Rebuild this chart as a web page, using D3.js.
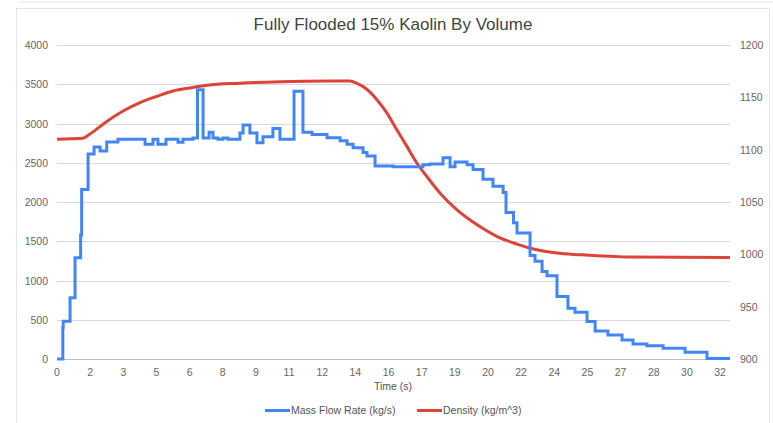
<!DOCTYPE html>
<html><head><meta charset="utf-8">
<script src="https://cdn.jsdelivr.net/npm/d3@7"></script>
<style>html,body{margin:0;padding:0;background:#fff;}svg{display:block;font-family:Arial,"Liberation Sans",sans-serif;}</style>
</head><body>
<svg id="c" width="773" height="423"></svg>
<script>
const title = "Fully Flooded 15% Kaolin By Volume";
const xTickLabels = ["0","2","3","5","6","8","9","11","12","14","16","17","19","20","22","24","25","27","28","30","32"];
const xTickStep = 1.6;
const leftTicks = [0,500,1000,1500,2000,2500,3000,3500,4000];
const rightTicks = [900,950,1000,1050,1100,1150,1200];
// Mass flow rate (step series): time (s), value (kg/s)
const flowTime = [0,0.28,0.30,0.63,0.87,1.14,1.19,1.50,1.79,2.08,2.40,2.94,4.25,4.63,4.87,5.26,5.84,6.08,6.56,6.78,7.05,7.34,7.53,7.77,8.01,8.25,8.83,8.98,9.31,9.65,9.94,10.42,10.76,11.44,11.87,12.31,13.03,13.66,14.00,14.29,14.77,14.96,15.35,16.22,17.66,18.00,18.63,18.97,19.21,19.79,20.08,20.56,21.04,21.53,21.67,22.03,22.20,22.83,23.07,23.41,23.65,24.13,24.66,25.00,25.58,25.97,26.59,27.27,27.80,28.47,29.25,30.31,31.37,32.48];
const flowValue = [0,400,480,780,1290,1580,2160,2610,2700,2650,2765,2800,2735,2800,2735,2800,2760,2800,2815,3430,2815,2890,2815,2800,2815,2800,2880,2980,2880,2755,2830,2935,2800,3410,2890,2860,2820,2780,2735,2690,2630,2585,2460,2450,2475,2485,2565,2450,2510,2475,2415,2290,2200,2120,1865,1735,1605,1320,1245,1115,1060,795,648,597,477,358,307,243,192,170,137,86,5,5];
// Density (smooth series): time (s), value (kg/m^3)
const densTime = [0,1.25,1.59,2.40,3.19,4.01,4.83,5.60,6.42,7.24,8.83,10.76,13.18,14.14,14.46,14.95,15.43,15.91,16.39,16.88,17.36,17.84,18.48,19.29,20.26,21.22,22.19,23.15,24.12,25.24,27.65,32.48];
const densValue = [1110,1111,1115,1127,1137,1145,1151,1156,1159,1161.5,1163.5,1165,1165.7,1165.5,1163.5,1157.7,1148,1135.4,1119.4,1103.4,1087.5,1074.6,1058.7,1042.7,1028.4,1017.2,1009.8,1004.4,1001.2,999.6,997.4,997];
const seriesNames = ["Mass Flow Rate (kg/s)","Density (kg/m^3)"];
const colors = ["#4285f4","#db4437"];

const svg = d3.select("#c");
const mLeft = 57, mRight = 730, mTop = 45, mBottom = 359;
const x = d3.scaleLinear().domain([0, 32.48]).range([mLeft, mRight]);
const yL = d3.scaleLinear().domain([0, 4000]).range([mBottom, mTop]);
const yR = d3.scaleLinear().domain([900, 1200]).range([mBottom, mTop]);

// frame
svg.append("line").attr("x1",20).attr("x2",773).attr("y1",2).attr("y2",2).attr("stroke","#e4e4e4");
svg.append("rect").attr("x",16.5).attr("y",8.5).attr("width",753).attr("height",430).attr("fill","#fff").attr("stroke","#e4e4e4");

// title
svg.append("text").attr("x",393).attr("y",30).attr("text-anchor","middle").attr("font-size",17).attr("fill","#444").text(title);

// gridlines
svg.append("g").selectAll("line").data(leftTicks).join("line")
  .attr("x1",mLeft).attr("x2",mRight).attr("y1",d=>Math.round(yL(d))+0.5).attr("y2",d=>Math.round(yL(d))+0.5)
  .attr("stroke",d=>d===0?"#bdbdbd":"#d9d9d9").attr("stroke-width",1);

// left axis labels
svg.append("g").selectAll("text").data(leftTicks).join("text")
  .attr("x",48).attr("y",d=>yL(d)+4).attr("text-anchor","end").attr("font-size",10.5).attr("fill","#666").text(d=>d);
// right axis labels
svg.append("g").selectAll("text").data(rightTicks).join("text")
  .attr("x",740).attr("y",d=>yR(d)+4).attr("text-anchor","start").attr("font-size",10.5).attr("fill","#666").text(d=>d);
// x labels
svg.append("g").selectAll("text").data(xTickLabels).join("text")
  .attr("x",(d,i)=>x(i*xTickStep)).attr("y",376).attr("text-anchor","middle").attr("font-size",10.5).attr("fill","#666").text(d=>d);
svg.append("text").attr("x",393).attr("y",390).attr("text-anchor","middle").attr("font-size",10.5).attr("fill","#555").text("Time (s)");

// series
const flow = flowTime.map((t,i)=>[t,flowValue[i]]);
const dens = densTime.map((t,i)=>[t,densValue[i]]);
svg.append("path").datum(dens).attr("fill","none").attr("stroke",colors[1]).attr("stroke-width",3)
  .attr("d",d3.line().x(d=>x(d[0])).y(d=>yR(d[1])).curve(d3.curveMonotoneX));
svg.append("path").datum(flow).attr("fill","none").attr("stroke",colors[0]).attr("stroke-width",3).attr("stroke-linejoin","miter")
  .attr("d",d3.line().x(d=>x(d[0])).y(d=>yL(d[1])).curve(d3.curveStepAfter));

// legend
const lg = svg.append("g");
const legX = [265, 417];
seriesNames.forEach((n,i)=>{
  lg.append("line").attr("x1",legX[i]).attr("x2",legX[i]+25).attr("y1",410.5).attr("y2",410.5).attr("stroke",colors[i]).attr("stroke-width",3);
  lg.append("text").attr("x",legX[i]+26).attr("y",414).attr("font-size",10.5).attr("fill","#555").text(n);
});
</script>
</body></html>
